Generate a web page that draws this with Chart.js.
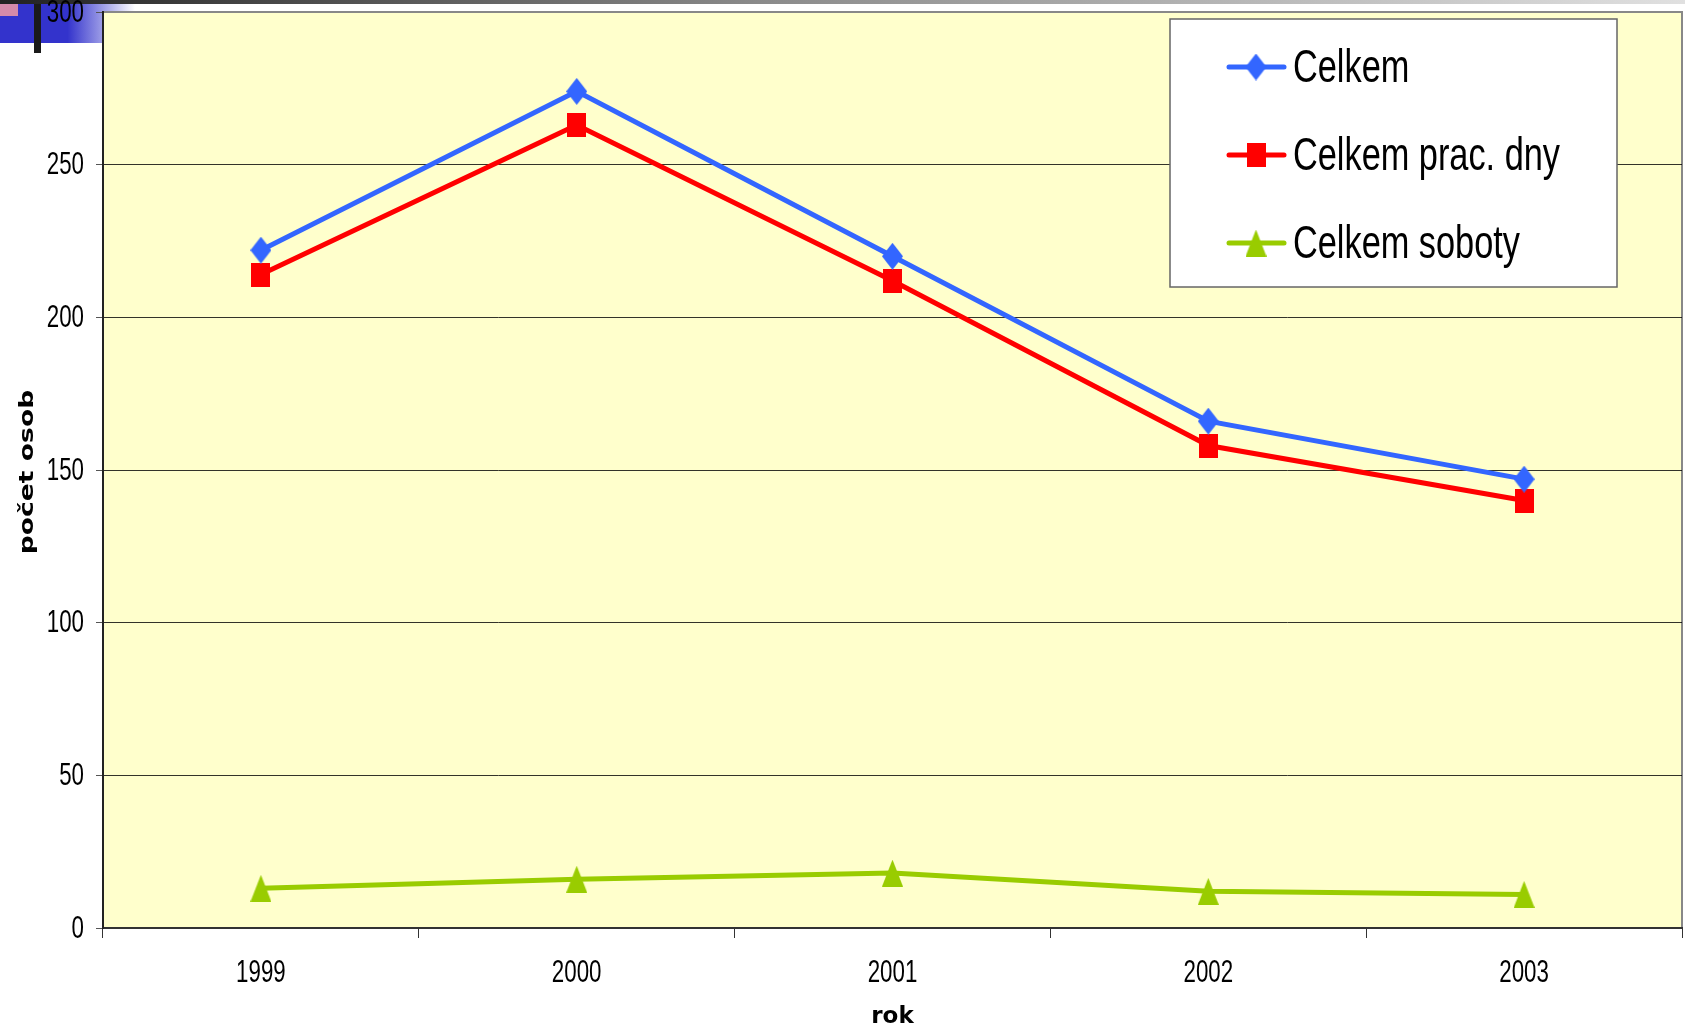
<!DOCTYPE html>
<html>
<head>
<meta charset="utf-8">
<title>počet osob</title>
<script src="https://cdn.jsdelivr.net/npm/chart.js@4.4.1/dist/chart.umd.min.js"></script>
<style>
  html, body { margin: 0; padding: 0; background: #ffffff; }
  #wrap { position: relative; width: 1685px; height: 1031px; }
</style>
</head>
<body>
<div id="wrap"><canvas id="chart" width="1685" height="1031"></canvas></div>
<script>
// data
const years = ['1999', '2000', '2001', '2002', '2003'];
const celkem = [222, 274, 220, 166, 147];
const celkemPracDny = [214, 263, 212, 158, 140];
const celkemSoboty = [13, 16, 18, 12, 11];
const seriesNames = ['Celkem', 'Celkem prac. dny', 'Celkem soboty'];
const yTicks = [0, 50, 100, 150, 200, 250, 300];

const BLUE = '#3366FF';
const RED = '#FF0000';
const GREEN = '#99CC00';
const SANS = '"Liberation Sans", Arial, sans-serif';
const SQUEEZE = 0.72; // the original slide text is narrow (horizontally squeezed)

// small canvases used as point markers (taller than wide, like the original)
function marker(w, h, color, shape) {
    const c = document.createElement('canvas');
    c.width = w;
    c.height = h;
    const g = c.getContext('2d');
    g.fillStyle = color;
    g.beginPath();
    if (shape === 'diamond') {
        g.moveTo(w / 2, 0); g.lineTo(w, h / 2); g.lineTo(w / 2, h); g.lineTo(0, h / 2);
    } else if (shape === 'triangle') {
        g.moveTo(w / 2, 0); g.lineTo(w, h); g.lineTo(0, h);
    } else {
        g.rect(0, 0, w, h);
    }
    g.closePath();
    g.fill();
    return c;
}
const diamond = marker(21, 27, BLUE, 'diamond');
const square = marker(19, 24, RED, 'square');
const triangle = marker(21, 27, GREEN, 'triangle');

// text drawn with a horizontal scale factor
function squeezed(ctx, text, x, y, sx, align) {
    ctx.save();
    ctx.translate(x, y);
    ctx.scale(sx, 1);
    ctx.textAlign = align;
    ctx.fillText(text, 0, 0);
    ctx.restore();
}

// slide decoration + yellow plot background
const backdrop = {
    id: 'backdrop',
    beforeDraw(chart) {
        const ctx = chart.ctx;
        const a = chart.chartArea;
        ctx.save();
        ctx.fillStyle = '#ffffff';
        ctx.fillRect(0, 0, chart.width, chart.height);
        // top grey line
        let gr = ctx.createLinearGradient(0, 0, chart.width, 0);
        gr.addColorStop(0, '#222222');
        gr.addColorStop(0.45, '#8a8a8a');
        gr.addColorStop(1, '#e0e0e0');
        ctx.fillStyle = gr;
        ctx.fillRect(0, 0, chart.width, 4);
        // blue band
        gr = ctx.createLinearGradient(0, 0, 135, 0);
        gr.addColorStop(0, '#3333cc');
        gr.addColorStop(0.5, '#3333cc');
        gr.addColorStop(1, 'rgba(255,255,255,1)');
        ctx.fillStyle = gr;
        ctx.fillRect(0, 4, 135, 39);
        ctx.fillStyle = '#d58aaa';
        ctx.fillRect(0, 4, 18, 12);
        ctx.fillStyle = '#1a1a1a';
        ctx.fillRect(34, 4, 7, 49);
        // plot area
        ctx.fillStyle = '#FFFFCC';
        ctx.fillRect(a.left, a.top, a.right - a.left, a.bottom - a.top);
        ctx.strokeStyle = '#888888';
        ctx.lineWidth = 2;
        ctx.strokeRect(a.left, a.top, a.right - a.left, a.bottom - a.top);
        ctx.restore();
    }
};

// tick labels and y title, placed from the chart's own scales
const axisText = {
    id: 'axisText',
    afterDraw(chart) {
        const ctx = chart.ctx;
        const xs = chart.scales.x;
        const ys = chart.scales.y;
        ctx.save();
        ctx.fillStyle = '#000000';
        ctx.textBaseline = 'middle';
        ctx.font = '31px ' + SANS;
        ys.ticks.forEach(t => {
            squeezed(ctx, String(t.value), ys.right - 19, ys.getPixelForValue(t.value) + 1, SQUEEZE, 'right');
        });
        xs.ticks.forEach((t, i) => {
            squeezed(ctx, xs.getLabelForValue(t.value), xs.getPixelForTick(i), xs.top + 45, SQUEEZE, 'center');
        });
        // y title, stretched along its length
        ctx.font = 'bold 20px "DejaVu Sans", sans-serif';
        ctx.translate(28, (ys.top + ys.bottom) / 2 + 2);
        ctx.rotate(-Math.PI / 2);
        ctx.scale(1.33, 1);
        ctx.textAlign = 'center';
        ctx.fillText('počet osob', 0, 0);
        ctx.restore();
    }
};

// boxed legend inside the plot, drawn from the datasets
const boxLegend = {
    id: 'boxLegend',
    afterDraw(chart) {
        const ctx = chart.ctx;
        const x0 = 1170, y0 = 19, w = 447, h = 268;
        ctx.save();
        ctx.fillStyle = '#ffffff';
        ctx.fillRect(x0, y0, w, h);
        ctx.strokeStyle = '#666666';
        ctx.lineWidth = 1.5;
        ctx.strokeRect(x0, y0, w, h);
        ctx.font = '47px ' + SANS;
        ctx.textBaseline = 'alphabetic';
        chart.data.datasets.forEach((ds, i) => {
            const cy = 67 + i * 88;
            ctx.strokeStyle = ds.borderColor;
            ctx.lineWidth = 5;
            ctx.lineCap = 'round';
            ctx.beginPath();
            ctx.moveTo(1229, cy);
            ctx.lineTo(1284, cy);
            ctx.stroke();
            const img = ds.pointStyle;
            ctx.drawImage(img, 1256 - img.width / 2, cy - img.height / 2);
            ctx.fillStyle = '#000000';
            squeezed(ctx, ds.label, 1293, cy + 15, 0.73, 'left');
        });
        ctx.restore();
    }
};

const ctx = document.getElementById('chart');

new Chart(ctx, {
    type: 'line',
    data: {
        labels: years,
        datasets: [
            { label: seriesNames[0], data: celkem, borderColor: BLUE, pointStyle: diamond },
            { label: seriesNames[1], data: celkemPracDny, borderColor: RED, pointStyle: square },
            { label: seriesNames[2], data: celkemSoboty, borderColor: GREEN, pointStyle: triangle }
        ]
    },
    options: {
        responsive: false,
        animation: false,
        devicePixelRatio: 1,
        layout: { autoPadding: false, padding: { top: 12, right: 3, left: 0, bottom: 0 } },
        elements: {
            line: { borderWidth: 5, tension: 0, fill: false },
            point: { radius: 10, hoverRadius: 10 }
        },
        scales: {
            x: {
                offset: true,
                grid: {
                    offset: true,
                    drawOnChartArea: false,
                    color: '#333333',
                    tickLength: 10
                },
                border: { color: '#333333', width: 2 },
                ticks: { display: false },
                title: {
                    display: true,
                    text: 'rok',
                    color: '#000000',
                    font: { family: 'DejaVu Sans', size: 23, weight: 'bold' },
                    padding: { top: 0, bottom: 0 }
                },
                afterFit(scale) {
                    scale.height = 103;
                    scale.paddingLeft = 0;
                    scale.paddingRight = 0;
                }
            },
            y: {
                min: 0,
                max: 300,
                afterBuildTicks(scale) {
                    scale.ticks = yTicks.map(v => ({ value: v }));
                },
                grid: {
                    color: c => (c.tick && c.tick.value === 300 ? '#888888' : 'rgba(0,0,0,0.8)'),
                    tickColor: '#555555',
                    tickLength: 7,
                    lineWidth: 1
                },
                border: { color: '#222222', width: 2 },
                ticks: { display: false },
                afterFit(scale) {
                    scale.width = 103;
                    scale.paddingTop = 0;
                    scale.paddingBottom = 0;
                }
            }
        },
        plugins: {
            legend: { display: false },
            tooltip: { enabled: false }
        }
    },
    plugins: [backdrop, axisText, boxLegend]
});
</script>
</body>
</html>
